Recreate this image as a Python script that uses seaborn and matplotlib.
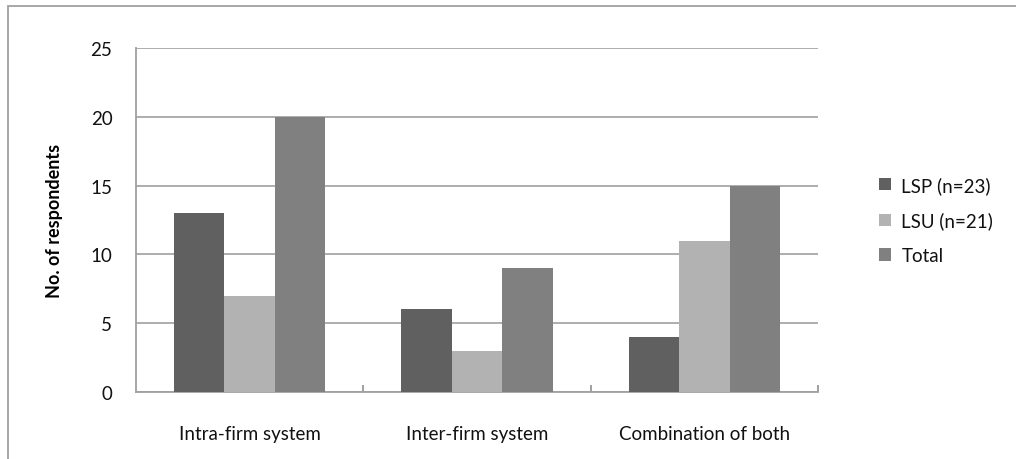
import matplotlib
matplotlib.use("Agg")
import matplotlib.pyplot as plt
from matplotlib.patches import Rectangle, Patch
import seaborn as sns
import pandas as pd

categories = ["Intra-firm system", "Inter-firm system", "Combination of both"]
series_names = ["LSP (n=23)", "LSU (n=21)", "Total"]
lsp_values = [13, 6, 4]
lsu_values = [7, 3, 11]
total_values = [20, 9, 15]
y_ticks = [0, 5, 10, 15, 20, 25]
colors = ["#606060", "#b2b2b2", "#808080"]

rows = []
for name, vals in zip(series_names, [lsp_values, lsu_values, total_values]):
    for cat, v in zip(categories, vals):
        rows.append({"category": cat, "series": name, "value": v})
df = pd.DataFrame(rows)

sns.set_theme(style="white")
plt.rcParams["font.family"] = ["Lato", "DejaVu Sans"]

FS = 13.5
TXT = "#111111"
W, H = 1016, 460
fig = plt.figure(figsize=(W / 100, H / 100), dpi=100)
fig.patch.set_facecolor("white")

# outer chart frame
fig.patches.append(Rectangle((8 / W, -0.1), 1.2, (H - 7) / H + 0.1,
                             transform=fig.transFigure, fill=False,
                             edgecolor="#a0a0a0", linewidth=1.3, zorder=0))

L, T, R, B = 136, 49, 818, 393
ax = fig.add_axes([L / W, (H - B) / H, (R - L) / W, (B - T) / H])

sns.barplot(data=df, x="category", y="value", hue="series",
            palette=colors, width=0.665, gap=0, linewidth=0,
            saturation=1, ax=ax, zorder=3)

ax.set_ylim(0, 25)
ax.set_xlim(-0.5, 2.5)
ax.set_yticks(y_ticks)
ax.set_yticklabels([str(t) for t in y_ticks], fontsize=FS, color=TXT)
ax.yaxis.grid(True, color="#a0a0a0", linewidth=1.2, zorder=0)
ax.set_axisbelow(True)
ax.tick_params(axis="y", length=0, pad=17)
ax.tick_params(axis="x", length=0, pad=24, labelsize=FS, labelcolor=TXT)
ax.set_xticks([0.5, 1.5, 2.5], minor=True)
ax.tick_params(axis="x", which="minor", bottom=True, direction="in",
               length=5, width=1.2, color="#909090")
ax.set_xlabel("")
ax.set_ylabel("No. of respondents", fontsize=13, fontweight="bold",
              color="#000000")
ax.yaxis.set_label_coords(-0.107, 0.5)

for side in ["top", "right"]:
    ax.spines[side].set_visible(False)
for side in ["left", "bottom"]:
    ax.spines[side].set_color("#a0a0a0")
    ax.spines[side].set_linewidth(1.3)

handles = [Patch(facecolor=c, edgecolor="none") for c in colors]
if ax.get_legend() is not None:
    ax.get_legend().remove()
fig.legend(handles, series_names, loc="center left",
           bbox_to_anchor=(862 / W, 1 - 221 / H), frameon=False,
           fontsize=FS, handlelength=0.65, handleheight=0.65,
           handletextpad=0.55, labelspacing=0.95, labelcolor=TXT)

fig.savefig("out.png", dpi=100, facecolor="white")
